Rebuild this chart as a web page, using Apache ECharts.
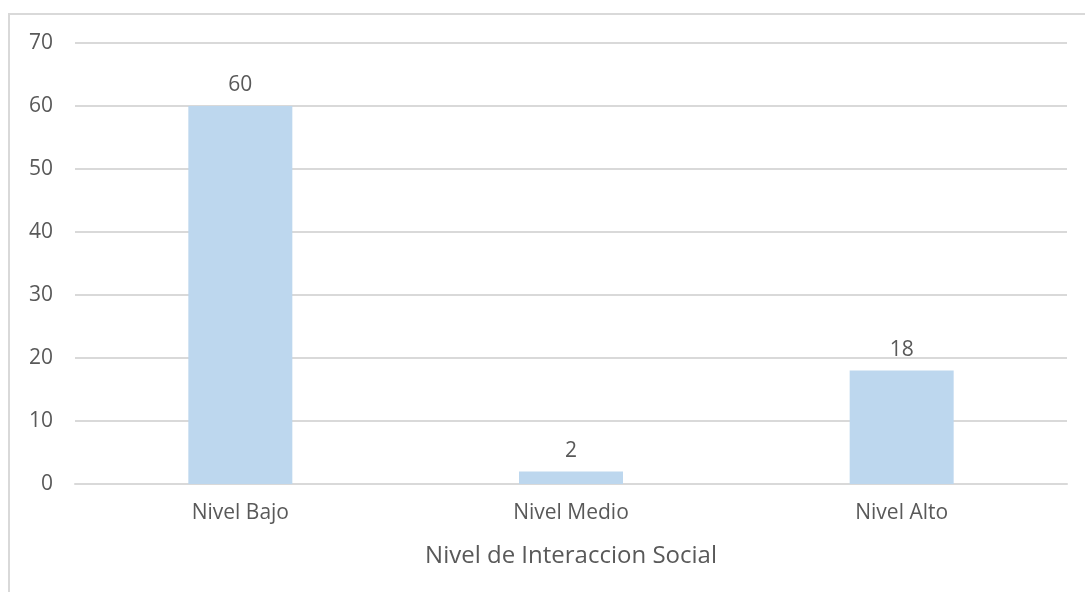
<!DOCTYPE html>
<html><head><meta charset="utf-8">
<script src="https://cdn.jsdelivr.net/npm/echarts@6/dist/echarts.min.js"></script>
<style>
html,body{margin:0;padding:0;background:#fff;overflow:hidden;}
#frame{position:absolute;left:8px;top:13px;width:1200px;height:700px;border-left:2px solid #d9d9d9;border-top:2px solid #d9d9d9;}
#c{position:absolute;left:0;top:0;width:1085px;height:592px;}
</style></head>
<body>
<div id="frame"></div>
<div id="c"></div>
<script>
const categories = ["Nivel Bajo", "Nivel Medio", "Nivel Alto"];
const values = [60, 2, 18];
const yTicks = [0, 10, 20, 30, 40, 50, 60, 70];
const xTitle = "Nivel de Interaccion Social";

const chart = echarts.init(document.getElementById('c'), null, {renderer: 'canvas'});
const txt = '#595959';
const font = 'Open Sans, Lato, sans-serif';
chart.setOption({
  animation: false,
  backgroundColor: 'transparent',
  grid: {left: 75, right: 18, top: 43, bottom: 108, containLabel: false},
  xAxis: {
    type: 'category', data: categories,
    name: xTitle, nameLocation: 'middle', nameGap: 60,
    nameTextStyle: {color: txt, fontSize: 24, fontFamily: font},
    axisLine: {show: true, lineStyle: {color: '#d9d9d9', width: 2}},
    axisTick: {show: false},
    axisLabel: {color: txt, fontSize: 21, fontFamily: font, margin: 19}
  },
  yAxis: {
    type: 'value', min: yTicks[0], max: yTicks[yTicks.length - 1], interval: 10,
    axisLine: {show: false}, axisTick: {show: false},
    axisLabel: {color: txt, fontSize: 21, fontFamily: font, margin: 22},
    splitLine: {lineStyle: {color: '#d9d9d9', width: 2}}
  },
  series: [{
    type: 'bar', data: values, barWidth: 104,
    itemStyle: {color: '#bdd7ee'},
    label: {show: true, position: 'top', distance: 10, color: txt, fontSize: 21, fontFamily: font}
  }]
});
</script>
</body></html>
